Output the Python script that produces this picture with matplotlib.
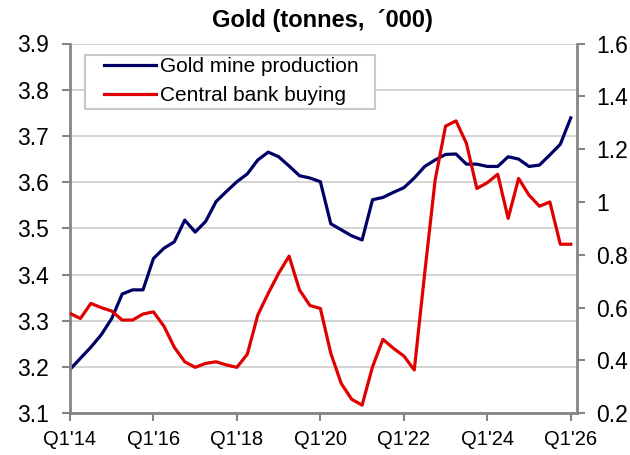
import matplotlib
matplotlib.use("Agg")
import matplotlib.pyplot as plt
from matplotlib.ticker import FuncFormatter
from matplotlib.patches import Rectangle

plt.rcParams['font.family'] = ['Liberation Sans', 'DejaVu Sans']

quarters = [f"Q{q}'{y:02d}" for y in range(14, 27) for q in range(1, 5)][:49]

mine_production = [3.195, 3.219, 3.243, 3.270, 3.305, 3.358, 3.367, 3.367, 3.435, 3.457,
                   3.471, 3.518, 3.492, 3.515, 3.558, 3.580, 3.601, 3.618, 3.648, 3.665,
                   3.655, 3.635, 3.614, 3.609, 3.601, 3.510, 3.497, 3.484, 3.475, 3.562,
                   3.567, 3.578, 3.588, 3.609, 3.634, 3.648, 3.660, 3.661, 3.639, 3.639,
                   3.634, 3.634, 3.655, 3.650, 3.634, 3.637, 3.659, 3.682, 3.739]

central_bank = [0.578, 0.559, 0.616, 0.600, 0.587, 0.553, 0.553, 0.576, 0.584, 0.530,
                0.450, 0.395, 0.374, 0.389, 0.395, 0.383, 0.374, 0.424, 0.572, 0.654,
                0.730, 0.795, 0.667, 0.608, 0.597, 0.427, 0.313, 0.253, 0.231, 0.376,
                0.480, 0.446, 0.417, 0.364, 0.730, 1.083, 1.287, 1.307, 1.222, 1.051,
                1.073, 1.105, 0.938, 1.089, 1.026, 0.984, 1.000, 0.840, 0.840]

left_ticks = [3.1, 3.2, 3.3, 3.4, 3.5, 3.6, 3.7, 3.8, 3.9]
right_ticks = [0.2, 0.4, 0.6, 0.8, 1.0, 1.2, 1.4, 1.6]
xtick_idx = list(range(0, 49, 8))

x = list(range(len(quarters)))

W, H = 630, 455
fig = plt.figure(figsize=(6.3, 4.55), dpi=100)
ax = fig.add_axes([70/W, 1-413.3/H, (577-70)/W, (413.3-43.5)/H])
ax2 = ax.twinx()

spine_col = '#858585'
grid_col = '#cccccc'

l1, = ax.plot(x, mine_production, color='#000066', lw=2.3, label='Gold mine production', solid_joinstyle='round')
l2, = ax2.plot(x, central_bank, color='#e00000', lw=2.3, label='Central bank buying', solid_joinstyle='round')

ax.set_ylim(3.1, 3.9)
ax.set_yticks(left_ticks)
ax.yaxis.set_major_formatter(FuncFormatter(lambda v, p: f"{v:g}"))
ax2.set_ylim(0.2, 1.6)
ax2.set_yticks(right_ticks)
ax2.yaxis.set_major_formatter(FuncFormatter(lambda v, p: f"{v:g}"))

ax.set_xlim(0, 48.6)
ax.set_xticks(xtick_idx)
ax.set_xticklabels([quarters[i] for i in xtick_idx])

ax.grid(axis='y', color=grid_col, lw=1.2)
ax.set_axisbelow(True)

for a in (ax, ax2):
    a.spines['top'].set_visible(False)
    a.tick_params(colors='black', direction='out', length=6, width=1.5)
    a.tick_params(axis='both', color=spine_col)
ax.tick_params(axis='y', labelsize=16.5, pad=9)
ax2.tick_params(axis='y', labelsize=16.5, pad=8)
ax.tick_params(axis='x', labelsize=14.5, pad=6)
ax.spines['left'].set_color(spine_col)
ax.spines['left'].set_linewidth(2)
ax.spines['bottom'].set_color(spine_col)
ax.spines['bottom'].set_linewidth(2)
ax.spines['right'].set_visible(False)
ax2.spines['left'].set_visible(False)
ax2.spines['bottom'].set_visible(False)
ax2.spines['right'].set_color(spine_col)
ax2.spines['right'].set_linewidth(2)

# legend frame
frame = Rectangle((85/W, 1-109/H), 290/W, 54/H, transform=fig.transFigure,
                  facecolor='white', edgecolor='#c8c8c8', lw=1.5, zorder=10)
ax2.add_patch(frame)
frame.set_clip_on(False)

leg = ax2.legend(handles=[l1, l2], loc='upper left',
                 bbox_to_anchor=(104/W, 1-57/H), bbox_transform=fig.transFigure,
                 fontsize=15, frameon=False, handlelength=2.5,
                 handletextpad=0.2, borderpad=0, labelspacing=0.5, borderaxespad=0)
leg.set_zorder(11)

fig.text(322/W, 1-21/H, 'Gold (tonnes,  \u00b4000)', ha='center', va='center',
         fontsize=17, fontweight='bold')

fig.savefig('out.png', dpi=100)
